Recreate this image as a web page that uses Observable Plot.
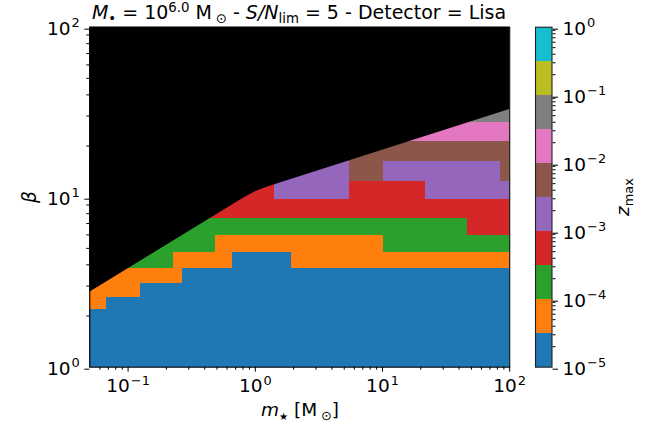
<!DOCTYPE html>
<html><head><meta charset="utf-8">
<script src="https://cdn.jsdelivr.net/npm/d3@7"></script>
<script src="https://cdn.jsdelivr.net/npm/@observablehq/plot@0.6"></script>
<style>
body{margin:0;background:#fff;}
#wrap{position:relative;width:656px;height:429px;font-family:"DejaVu Sans",sans-serif;}
#wrap svg{position:absolute;left:0;top:0;}
</style></head><body><div id="wrap"></div>
<script>
// grid cell edges (m_star in Msun, beta)
const xEdges = [0.05, 0.0676, 0.125, 0.228, 0.268, 0.487, 0.663, 1.42, 1.93, 5.52, 10.2, 21.9, 46.6, 85.1, 100];
const yEdges = [1, 2.185, 2.581, 3.108, 3.823, 4.727, 5.953, 7.523, 9.694, 12.37, 16.22, 21.27, 27.51, 100];
// z_max bin index per cell, rows from bottom (beta low) to top, one digit per m_star column
const zRows = [
  "00000000000000",
  "10000000000000",
  "11000000000000",
  "11110000000000",
  "22211100111111",
  "22222111112222",
  "22222222222233",
  "33333333333333",
  "33333334433444",
  "33333334454445",
  "55555555555555",
  "66666666666666",
  "77777777777777"
];
// detectability boundary (above it: black)
const boundaryM = [0.05, 0.8, 1.0, 1.25, 100];
const boundaryBeta = [2.76, 9.83, 10.75, 11.5, 32.8];
// colour bins of z_max
const binColors = ["#1f77b4","#ff7f0e","#2ca02c","#d62728","#9467bd","#8c564b","#e377c2","#7f7f7f","#bcbd22","#17becf"];
const binEdges = [1e-5, 3.162e-5, 1e-4, 3.162e-4, 1e-3, 3.162e-3, 1e-2, 3.162e-2, 1e-1, 3.162e-1, 1];
// ticks
const xMajor = [0.1, 1, 10, 100];
const xMinor = [0.06,0.07,0.08,0.09,0.2,0.3,0.4,0.5,0.6,0.7,0.8,0.9,2,3,4,5,6,7,8,9,20,30,40,50,60,70,80,90];
const yMajor = [1, 10, 100];
const yMinor = [2,3,4,5,6,7,8,9,20,30,40,50,60,70,80,90];
const cbMajor = [1e-5, 1e-4, 1e-3, 1e-2, 1e-1, 1];
const cbMinor = [2e-5,3e-5,4e-5,5e-5,6e-5,7e-5,8e-5,9e-5,2e-4,3e-4,4e-4,5e-4,6e-4,7e-4,8e-4,9e-4,
  2e-3,3e-3,4e-3,5e-3,6e-3,7e-3,8e-3,9e-3,2e-2,3e-2,4e-2,5e-2,6e-2,7e-2,8e-2,9e-2,
  2e-1,3e-1,4e-1,5e-1,6e-1,7e-1,8e-1,9e-1];

const FS = 18.5;
const fmt = d => { const e = Math.round(Math.log10(d)); return "10^" + (e < 0 ? "\u2212" + (-e) : e); };

const cells = [];
zRows.forEach((row, r) => row.split("").forEach((ch, c) => cells.push({
  x1: xEdges[c], x2: xEdges[c + 1], y1: yEdges[r], y2: yEdges[r + 1], z: +ch
})));
const boundary = boundaryM.map((m, i) => ({m, b: boundaryBeta[i]}));

const W = 656, H = 429;
const L = 89.3, R = 509.2, T = 26.7, B = 366.7;
const style = {background: "none", fontFamily: "DejaVu Sans", fontSize: FS + "px", color: "black", overflow: "visible"};

const main = Plot.plot({
  width: W, height: H,
  marginLeft: L, marginRight: W - R, marginTop: T, marginBottom: H - B,
  style,
  x: {type: "log", domain: [0.05, 100], label: null},
  y: {type: "log", domain: [1, 100], label: null},
  color: {type: "identity"},
  marks: [
    Plot.rect(cells, {x1: "x1", x2: "x2", y1: "y1", y2: "y2", fill: d => binColors[d.z], shapeRendering: "crispEdges"}),
    Plot.areaY(boundary, {x: "m", y1: "b", y2: 100, fill: "black"}),
    Plot.frame({stroke: "black", strokeWidth: 1.1}),
    Plot.axisX({ticks: xMinor, anchor: "bottom", tickSize: 3, tickFormat: () => "", label: null}),
    Plot.axisX({ticks: xMajor, anchor: "bottom", tickSize: 5, tickPadding: 7, tickFormat: fmt, label: null}),
    Plot.axisY({ticks: yMinor, anchor: "left", tickSize: 3, tickFormat: () => "", label: null}),
    Plot.axisY({ticks: yMajor, anchor: "left", tickSize: 5, tickPadding: 5, tickFormat: fmt, dy: 2, label: null})
  ]
});

const cb = Plot.plot({
  width: W, height: H,
  marginLeft: 535, marginRight: W - 551.5, marginTop: T, marginBottom: H - B,
  style,
  x: {domain: [0, 1], axis: null},
  y: {type: "log", domain: [1e-5, 1], label: null},
  color: {type: "identity"},
  marks: [
    Plot.rect(binColors, {x1: 0, x2: 1, y1: (d, i) => binEdges[i], y2: (d, i) => binEdges[i + 1], fill: d => d, shapeRendering: "crispEdges"}),
    Plot.frame({stroke: "#222", strokeWidth: 1.1}),
    Plot.axisY({ticks: cbMinor, anchor: "right", tickSize: 3, tickFormat: () => "", label: null}),
    Plot.axisY({ticks: cbMajor, anchor: "right", tickSize: 5.5, tickPadding: 5, tickFormat: fmt, dy: 2, label: null})
  ]
});

function supify(svg) {
  d3.select(svg).selectAll("text").each(function () {
    const m = /^10\^(.+)$/.exec(this.textContent);
    if (m) {
      const s = d3.select(this);
      s.text("10");
      s.append("tspan").attr("dx", 1).attr("dy", -0.42 * FS).attr("font-size", 0.7 * FS).text(m[1]);
    }
  });
}
supify(main); supify(cb);

function rich(sel, segs, size) {
  let shift = 0;
  for (const s of segs) {
    const target = s.k === "sub" ? 0.2 * size : s.k === "sup" ? -0.36 * size : 0;
    const ts = sel.append("tspan").attr("dy", target - shift).text(s.t);
    shift = target;
    if (s.k) ts.attr("font-size", (s.fs || 0.7) * size);
    if (s.i) ts.attr("font-style", "italic");
  }
}
const svgM = d3.select(main);
const g = svgM.append("g").attr("fill", "black").attr("font-family", "DejaVu Sans");
const TS = 19;
rich(g.append("text").attr("x", 299).attr("y", 19).attr("text-anchor", "middle").attr("font-size", TS),
  [{t: "M", i: true}, {t: "\u2022", k: "sub"}, {t: " = 10"}, {t: "6.0", k: "sup"}, {t: " M\u2009"}, {t: "\u2299", k: "sub"},
   {t: " - "}, {t: "S/N", i: true}, {t: "lim", k: "sub"}, {t: " = 5 - Detector = Lisa"}], TS);
rich(g.append("text").attr("x", 300).attr("y", 416).attr("text-anchor", "middle").attr("font-size", FS),
  [{t: "m", i: true}, {t: "\u2605", k: "sub", fs: 0.55}, {t: " [M\u2009"}, {t: "\u2299", k: "sub"}, {t: "]"}], FS);
g.append("text").attr("transform", "translate(36,197) rotate(-90)").attr("text-anchor", "middle")
  .attr("font-size", FS).attr("font-style", "italic").text("\u03b2");
const svgC = d3.select(cb);
const g2 = svgC.append("g").attr("fill", "black").attr("font-family", "DejaVu Sans");
rich(g2.append("text").attr("transform", "translate(629,197) rotate(-90)").attr("text-anchor", "middle").attr("font-size", FS),
  [{t: "z", i: true}, {t: "max", k: "sub"}], FS);

const wrap = document.getElementById("wrap");
wrap.append(main);
wrap.append(cb);
</script>
</body></html>
